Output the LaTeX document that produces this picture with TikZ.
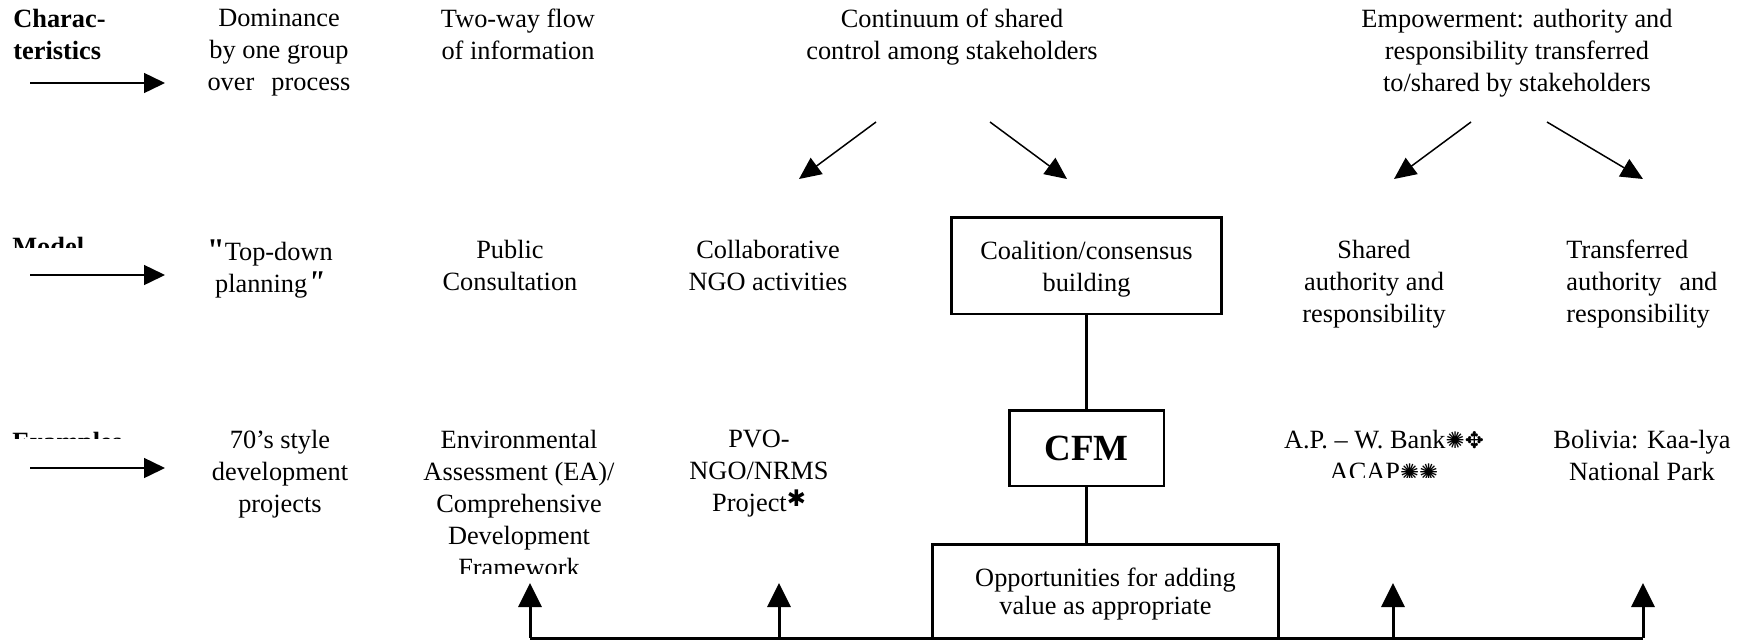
\documentclass[tikz,border=0pt]{standalone}
\usepackage{fontspec}
\setmainfont{Liberation Serif}
\newfontfamily\dingfont{DejaVu Sans}
\newfontfamily\qtfont[Ligatures=TeXOff]{Liberation Serif}
\usetikzlibrary{arrows.meta}

\newcommand{\dingsym}[1]{{\dingfont\fontsize{13}{14}\selectfont #1}}
\newcommand{\boxlines}[2]{\raisebox{#1}[\height][\depth]{\begin{tabular}{@{}c@{}}#2\end{tabular}}}

\begin{document}
\begin{tikzpicture}
    [ x=0.02cm, y=-0.02cm
    , txt/.style={anchor=north, align=center, inner sep=0pt, font=\fontsize{15}{18.2}\selectfont}
    , hdr/.style={txt, anchor=north west, align=left, font=\fontsize{15}{18.2}\selectfont\bfseries}
    , box/.style={draw, line width=1.7pt, inner sep=0pt, font=\fontsize{15}{18.2}\selectfont}
    , link/.style={line width=1.7pt}
    , rowarrow/.style={-{Triangle[length=0.42cm, width=0.4cm]}, line width=0.85pt}
    , diagarrow/.style={-{Triangle[length=0.44cm, width=0.4cm]}, line width=0.85pt}
    , uparrow/.style={-{Triangle[length=0.48cm, width=0.46cm]}, line width=1.7pt}
    ]
\path[use as bounding box] (0,0) rectangle (1747,640);

% row headers
\node[hdr] (charhdr) at (13,9) {Charac-\\teristics};
\begin{scope}
  \clip (0,225) rectangle (200,247);
  \node[hdr] (modelhdr) at (12,236.6) {Model};
\end{scope}
\begin{scope}
  \clip (0,420) rectangle (200,438);
  \node[hdr] (examphdr) at (12,431.5) {Examples};
\end{scope}

\coordinate (charA) at (30,83);  \coordinate (charB) at (165,83);
\coordinate (modelA) at (30,275); \coordinate (modelB) at (165,275);
\coordinate (exampA) at (30,468); \coordinate (exampB) at (165,468);
\draw[rowarrow] (charA) -- (charB);
\draw[rowarrow] (modelA) -- (modelB);
\draw[rowarrow] (exampA) -- (exampB);

% characteristics
\node[txt] (domin) at (279,9) {Dominance\\by one group\\\makebox[2.86cm][s]{over process}};
\node[txt] (twoway) at (518,9) {Two-way flow\\of information};
\node[txt] (contin) at (952,9) {Continuum of shared\\control among stakeholders};
\node[txt] (empow) at (1517,9) {Empowerment: authority and\\responsibility transferred\\to/shared by stakeholders};

% models
\node[txt] (topdown) at (270,239.6) {{\qtfont\bfseries\fontsize{18}{18.2}\selectfont"}Top-down\\planning{\qtfont\bfseries\itshape\fontsize{18}{18.2}\selectfont"}};
\node[txt] (public) at (510,239.6) {Public\\Consultation};
\node[txt] (collab) at (768,239.6) {Collaborative\\NGO activities};
\node[box, minimum width=5.42cm, minimum height=1.94cm] (coalit) at (1086.5,265.5) {\boxlines{-0.07cm}{Coalition/consensus\\building}};
\node[txt] (shared) at (1374,239.6) {Shared\\authority and\\responsibility};
\node[txt, anchor=north west, align=left] (transf) at (1566,239.6) {Transferred\\\makebox[3.02cm][s]{authority and}\\responsibility};

% examples
\node[txt] (seventies) at (280,430) {70’s style\\development\\projects};
\begin{scope}
  \clip (380,420) rectangle (660,573);
  \node[txt] (envasm) at (519,430) {Environmental\\Assessment (EA)/\\Comprehensive\\Development\\Framework};
\end{scope}
\node[txt] (pvo) at (759,430) {PVO-\\NGO/NRMS\\Project\raisebox{3pt}{\dingsym{✱}}};
\node[box, minimum width=3.1cm, minimum height=1.52cm, font=\fontsize{21}{25}\selectfont\bfseries] (cfm) at (1086.5,448) {CFM};
\begin{scope}
  \clip (1250,420) rectangle (1520,477);
  \node[txt] (apwb) at (1384,430) {A.P. -- W. Bank\dingsym{✺✥}\\ACAP\dingsym{✺✺}};
\end{scope}
\node[txt] (bolivia) at (1642,430) {Bolivia: Kaa-lya\\National Park};
\node[box, minimum width=6.94cm, minimum height=1.88cm, font=\fontsize{15}{16}\selectfont] (oppor) at (1105.5,591) {\boxlines{-0.076cm}{Opportunities for adding\\value as appropriate}};

\draw[link] (coalit) -- (cfm);
\draw[link] (cfm.south) -- (cfm.south |- oppor.north);

% arrows from the characteristics
\coordinate (contL) at (876,122); \coordinate (contLtip) at (799,179);
\coordinate (contR) at (990,122); \coordinate (contRtip) at (1067,179);
\coordinate (empL) at (1471,122); \coordinate (empLtip) at (1394,179);
\coordinate (empR) at (1547,122); \coordinate (empRtip) at (1643,179);
\draw[diagarrow] (contL) -- (contLtip);
\draw[diagarrow] (contR) -- (contRtip);
\draw[diagarrow] (empL) -- (empLtip);
\draw[diagarrow] (empR) -- (empRtip);

% feedback from the opportunities
\foreach \x/\n in {530/a, 779/b, 1393/c, 1643/d}
  {
  \coordinate (foot\n) at (\x,638);
  \coordinate (tip\n) at (\x,583);
  \draw[uparrow] (foot\n) -- (tip\n);
  }
\draw[link] (foota) -- (footd);

\end{tikzpicture}
\end{document}
